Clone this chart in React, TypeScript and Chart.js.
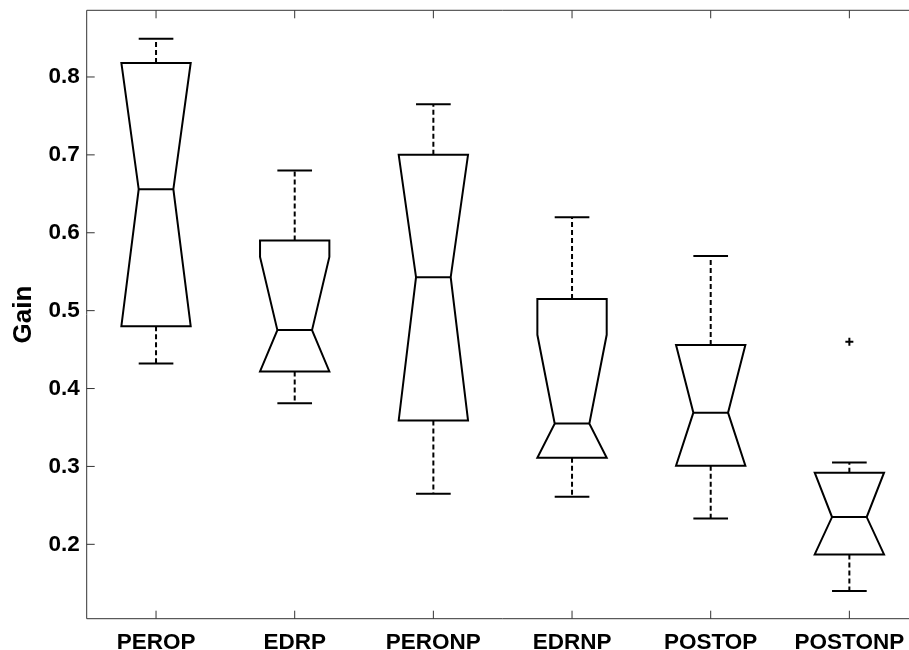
import React, { useEffect, useRef } from 'react';
import { Chart, registerables } from 'chart.js';

Chart.register(...registerables);

// ---- data ----
const categories = ['PEROP', 'EDRP', 'PERONP', 'EDRNP', 'POSTOP', 'POSTONP'];
const whiskerHigh = [0.849, 0.680, 0.765, 0.620, 0.570, 0.305];
const q3 = [0.818, 0.590, 0.700, 0.515, 0.456, 0.292];
const notchHigh = [0.818, 0.569, 0.700, 0.469, 0.456, 0.292];
const median = [0.656, 0.475, 0.543, 0.355, 0.369, 0.235];
const notchLow = [0.480, 0.422, 0.359, 0.311, 0.301, 0.187];
const q1 = [0.480, 0.422, 0.359, 0.311, 0.301, 0.187];
const whiskerLow = [0.432, 0.381, 0.265, 0.261, 0.233, 0.140];
const outliers = [null, null, null, null, null, 0.460];
const yTicks = [0.2, 0.3, 0.4, 0.5, 0.6, 0.7, 0.8];
const yMin = 0.1045;
const yMax = 0.8856;

const FONT = "'Liberation Sans', Arial, Helvetica, sans-serif";

export default function App() {
  const ref = useRef<HTMLCanvasElement>(null);

  useEffect(() => {
    const boxPlugin = {
      id: 'notchedBoxes',
      afterDatasetsDraw(chart: any) {
        const ctx = chart.ctx;
        const xs = chart.scales.x;
        const ys = chart.scales.y;
        const unit = xs.getPixelForValue(1) - xs.getPixelForValue(0);
        const hw = unit * 0.25;
        const nw = unit * 0.125;
        ctx.save();
        ctx.strokeStyle = '#000';
        ctx.lineWidth = 2;
        ctx.lineJoin = 'miter';
        categories.forEach((_, i) => {
          const c = xs.getPixelForValue(i);
          const yQ3 = ys.getPixelForValue(q3[i]);
          const yQ1 = ys.getPixelForValue(q1[i]);
          const yMed = ys.getPixelForValue(median[i]);
          const yNH = ys.getPixelForValue(Math.min(notchHigh[i], q3[i]));
          const yNL = ys.getPixelForValue(Math.max(notchLow[i], q1[i]));
          const yWH = ys.getPixelForValue(whiskerHigh[i]);
          const yWL = ys.getPixelForValue(whiskerLow[i]);
          // whiskers (dashed)
          ctx.setLineDash([5, 3]);
          ctx.beginPath();
          ctx.moveTo(c, yQ3);
          ctx.lineTo(c, yWH);
          ctx.moveTo(c, yQ1);
          ctx.lineTo(c, yWL);
          ctx.stroke();
          ctx.setLineDash([]);
          // caps
          ctx.beginPath();
          ctx.moveTo(c - nw, yWH);
          ctx.lineTo(c + nw, yWH);
          ctx.moveTo(c - nw, yWL);
          ctx.lineTo(c + nw, yWL);
          ctx.stroke();
          // notched box
          ctx.beginPath();
          ctx.moveTo(c - hw, yQ3);
          ctx.lineTo(c - hw, yNH);
          ctx.lineTo(c - nw, yMed);
          ctx.lineTo(c - hw, yNL);
          ctx.lineTo(c - hw, yQ1);
          ctx.lineTo(c + hw, yQ1);
          ctx.lineTo(c + hw, yNL);
          ctx.lineTo(c + nw, yMed);
          ctx.lineTo(c + hw, yNH);
          ctx.lineTo(c + hw, yQ3);
          ctx.closePath();
          ctx.stroke();
          // median
          ctx.beginPath();
          ctx.moveTo(c - nw, yMed);
          ctx.lineTo(c + nw, yMed);
          ctx.stroke();
        });
        ctx.restore();
      },
      afterDraw(chart: any) {
        const ctx = chart.ctx;
        const { left, right, top, bottom } = chart.chartArea;
        const xs = chart.scales.x;
        const ys = chart.scales.y;
        const tl = 8;
        ctx.save();
        ctx.strokeStyle = '#333';
        ctx.lineWidth = 1;
        ctx.beginPath();
        ctx.rect(left, top, right - left, bottom - top);
        yTicks.forEach((v) => {
          const y = ys.getPixelForValue(v);
          ctx.moveTo(left, y);
          ctx.lineTo(left + tl, y);
          ctx.moveTo(right, y);
          ctx.lineTo(right - tl, y);
        });
        categories.forEach((_, i) => {
          const x = xs.getPixelForValue(i);
          ctx.moveTo(x, bottom);
          ctx.lineTo(x, bottom - tl);
          ctx.moveTo(x, top);
          ctx.lineTo(x, top + tl);
        });
        ctx.stroke();
        ctx.restore();
      },
    };

    const chart = new Chart(ref.current as HTMLCanvasElement, {
      type: 'line',
      data: {
        labels: categories,
        datasets: [
          {
            data: outliers as any,
            showLine: false,
            pointStyle: 'cross',
            pointRadius: 4,
            pointBorderWidth: 2,
            borderColor: '#000',
            backgroundColor: '#000',
          },
        ],
      },
      options: {
        responsive: false,
        animation: false,
        layout: { padding: { left: 0, top: 10.3, right: 11.3, bottom: 0 } },
        plugins: { legend: { display: false }, tooltip: { enabled: false } },
        scales: {
          x: {
            type: 'category',
            offset: true,
            grid: { display: false, drawTicks: false },
            border: { display: false },
            ticks: {
              color: '#000',
              font: { family: FONT, weight: 'bold', size: 22.5 },
              padding: 11,
              maxRotation: 0,
              autoSkip: false,
            },
            afterFit: (s: any) => {
              s.height = 31.3;
              s.paddingLeft = 0;
              s.paddingRight = 0;
            },
          },
          y: {
            type: 'linear',
            min: yMin,
            max: yMax,
            grid: { display: false, drawTicks: false },
            border: { display: false },
            afterBuildTicks: (s: any) => {
              s.ticks = yTicks.map((v) => ({ value: v }));
            },
            ticks: {
              color: '#000',
              font: { family: FONT, weight: 'bold', size: 22.5 },
              padding: 7,
              callback: (v: any) => Number(v).toFixed(1),
            },
            title: {
              display: true,
              text: 'Gain',
              color: '#000',
              font: { family: FONT, weight: 'bold', size: 26 },
              padding: { top: 8, bottom: 0 },
            },
            afterFit: (s: any) => {
              s.width = 86.7;
              s.paddingTop = 0;
              s.paddingBottom = 0;
            },
          },
        },
      } as any,
      plugins: [boxPlugin],
    });
    return () => chart.destroy();
  }, []);

  return (
    <div
      style={{
        position: 'fixed',
        left: 0,
        top: 0,
        width: 909,
        height: 650,
        overflow: 'hidden',
        background: '#fff',
      }}
    >
      <canvas ref={ref} width={930} height={650} style={{ display: 'block' }} />
    </div>
  );
}
